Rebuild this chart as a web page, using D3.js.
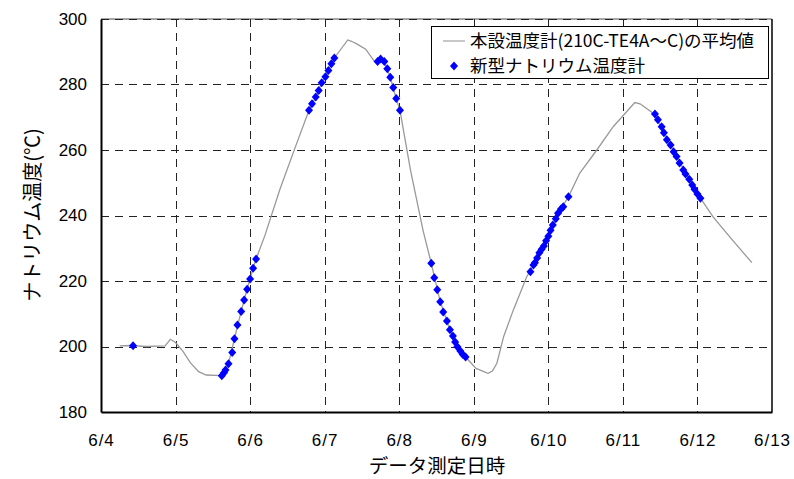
<!DOCTYPE html>
<html><head><meta charset="utf-8">
<script src="https://cdn.jsdelivr.net/npm/d3@7/dist/d3.min.js"></script>
<style>
html,body{margin:0;padding:0;background:#fff;}
svg{display:block;}
text{font-family:"Liberation Sans","Noto Sans CJK JP",sans-serif;}
.jp{font-family:"Noto Sans CJK JP","Liberation Sans",sans-serif;}
</style></head>
<body>
<script>
// ---- data ----
const xTickValues = [4,5,6,7,8,9,10,11,12,13];
const xTickLabels = ["6/4","6/5","6/6","6/7","6/8","6/9","6/10","6/11","6/12","6/13"];
const yTickValues = [180,200,220,240,260,280,300];
const lineDays = [4.25,4.40,4.60,4.86,4.93,5.00,5.10,5.20,5.31,5.41,5.62,5.71,5.79,5.88,5.96,6.04,6.08,6.20,6.40,6.60,6.79,6.88,6.96,7.05,7.13,7.31,7.36,7.43,7.55,7.67,7.75,7.80,7.88,7.96,8.01,8.15,8.32,8.43,8.55,8.68,8.78,8.89,9.03,9.19,9.25,9.31,9.40,9.53,9.71,9.82,9.91,10.00,10.13,10.27,10.42,10.65,10.87,11.16,11.23,11.42,11.55,11.72,11.89,12.04,12.21,12.45,12.73];
const lineTemps = [200.2,200.3,200.0,200.2,202.2,201.2,198.5,195.0,192.3,191.3,191.1,194.7,202.4,210.7,217.5,223.9,226.7,234.0,248.0,260.5,272.1,276.2,280.5,284.3,288.1,293.6,293.2,292.4,290.8,287.0,287.8,287.0,282.2,275.7,272.1,254.0,235.4,225.4,213.7,205.1,199.9,196.8,193.3,191.8,192.5,194.9,203.0,211.1,221.3,225.5,229.7,233.7,240.7,245.7,252.9,260.0,267.1,274.5,274.1,271.0,265.3,258.0,251.1,245.3,239.6,233.0,225.6];
const pointDays = [4.43,
 5.62,5.65,5.67,5.71,5.76,5.79,5.83,5.88,5.92,5.96,6.00,6.04,6.08,
 6.79,6.83,6.88,6.92,6.96,7.01,7.05,7.09,7.13,
 7.71,7.75,7.80,7.84,7.88,7.92,7.96,8.01,
 8.43,8.47,8.51,8.55,8.59,8.64,8.68,8.72,8.75,8.78,8.82,8.85,8.89,
 9.76,9.80,9.82,9.85,9.88,9.91,9.94,9.97,10.00,10.03,10.06,10.10,10.13,10.17,10.20,10.27,
 11.43,11.47,11.52,11.55,11.59,11.64,11.68,11.72,11.76,11.81,11.84,11.89,11.93,11.96,12.00,12.04];
const pointTemps = [200.2,
 191.1,192.0,192.8,194.7,198.2,202.4,206.6,210.7,214.2,217.5,220.6,223.9,226.7,
 272.1,274.1,276.2,278.2,280.5,282.4,284.3,286.3,288.1,
 287.0,287.8,287.0,284.8,282.2,279.1,275.7,272.1,
 225.4,221.0,217.3,213.7,210.5,207.8,205.1,203.2,201.4,199.9,198.6,197.6,196.8,
 222.8,224.9,225.6,227.0,228.6,229.7,230.7,232.3,233.7,235.5,237.1,239.0,240.7,242.0,242.7,245.7,
 271.0,269.2,267.1,265.3,263.1,261.5,259.5,258.0,256.0,253.9,252.7,251.1,249.3,248.0,246.6,245.3];
const seriesNames = ["本設温度計(210C-TE4A～C)の平均値","新型ナトリウム温度計"];
const xTitle = "データ測定日時";
const yTitle = "ナトリウム温度(℃)";

// ---- layout ----
const W=794,H=479;
const L=101,R=772,T=19,B=412;
const svg=d3.select("body").append("svg").attr("width",W).attr("height",H);
const x=d3.scaleLinear().domain([4,13]).range([L,R]);
const y=d3.scaleLinear().domain([180,300]).range([B,T]);

// frame (gray top)
svg.append("line").attr("x1",L).attr("x2",R).attr("y1",T).attr("y2",T).attr("stroke","#888").attr("stroke-width",1.5);

// grid
const g=svg.append("g");
g.selectAll(".gx").data(xTickValues.slice(1,-1)).join("line")
 .attr("x1",d=>Math.round(x(d))+0.5).attr("x2",d=>Math.round(x(d))+0.5)
 .attr("y1",T).attr("y2",B).attr("stroke","#222").attr("stroke-width",1).attr("stroke-dasharray","8,6");
g.selectAll(".gy").data(yTickValues.slice(1)).join("line")
 .attr("y1",d=>Math.round(y(d))+0.5).attr("y2",d=>Math.round(y(d))+0.5)
 .attr("x1",L).attr("x2",R).attr("stroke","#222").attr("stroke-width",1).attr("stroke-dasharray","8,6");

// axes
const xAxis=d3.axisBottom(x).tickValues(xTickValues).tickFormat((d,i)=>xTickLabels[i]).tickSize(0).tickPadding(22);
const ax=svg.append("g").attr("transform",`translate(0,${B})`).call(xAxis);
ax.select(".domain").attr("stroke","#000").attr("stroke-width",2);
ax.selectAll("text").attr("font-size",17).attr("letter-spacing",1).attr("fill","#000");
const yAxis=d3.axisLeft(y).tickValues(yTickValues).tickSize(0).tickPadding(14);
const ay=svg.append("g").attr("transform",`translate(${L},0)`).call(yAxis);
ay.select(".domain").attr("stroke","#000").attr("stroke-width",2);
ay.selectAll("text").attr("font-size",17).attr("fill","#000");
// right border
svg.append("line").attr("x1",R).attr("x2",R).attr("y1",T).attr("y2",B).attr("stroke","#000").attr("stroke-width",1.5);

// line series
const lineData=lineDays.map((d,i)=>[d,lineTemps[i]]);
svg.append("path").datum(lineData)
 .attr("d",d3.line().x(d=>x(d[0])).y(d=>y(d[1])))
 .attr("fill","none").attr("stroke","#999").attr("stroke-width",1.3);

// points
const pts=pointDays.map((d,i)=>[d,pointTemps[i]]);
const diamond="M0,-4.5L4,0L0,4.5L-4,0Z";
svg.append("g").selectAll("path").data(pts).join("path")
 .attr("d",diamond).attr("transform",d=>`translate(${x(d[0])},${y(d[1])})`)
 .attr("fill","#0000ff");

// legend
const lg=svg.append("g");
lg.append("rect").attr("x",431.5).attr("y",26.5).attr("width",337).attr("height",52)
 .attr("fill","#fff").attr("stroke","#000").attr("stroke-width",1);
lg.append("line").attr("x1",443).attr("x2",465).attr("y1",41).attr("y2",41).attr("stroke","#aaa").attr("stroke-width",1.3);
lg.append("path").attr("d",diamond).attr("transform","translate(454,66)").attr("fill","#0000ff");
lg.append("text").attr("class","jp").attr("x",470).attr("y",41).attr("dy","0.35em").attr("font-size",17.5).text(seriesNames[0]);
lg.append("text").attr("class","jp").attr("x",470).attr("y",66).attr("dy","0.35em").attr("font-size",17.5).text(seriesNames[1]);

// titles
svg.append("text").attr("class","jp").attr("x",437).attr("y",466).attr("dy","0.35em").attr("text-anchor","middle").attr("font-size",19.5).text(xTitle);
svg.append("text").attr("class","jp").attr("transform","translate(33,215) rotate(-90)").attr("dy","0.35em").attr("text-anchor","middle").attr("font-size",20).text(yTitle);
</script>
</body></html>
